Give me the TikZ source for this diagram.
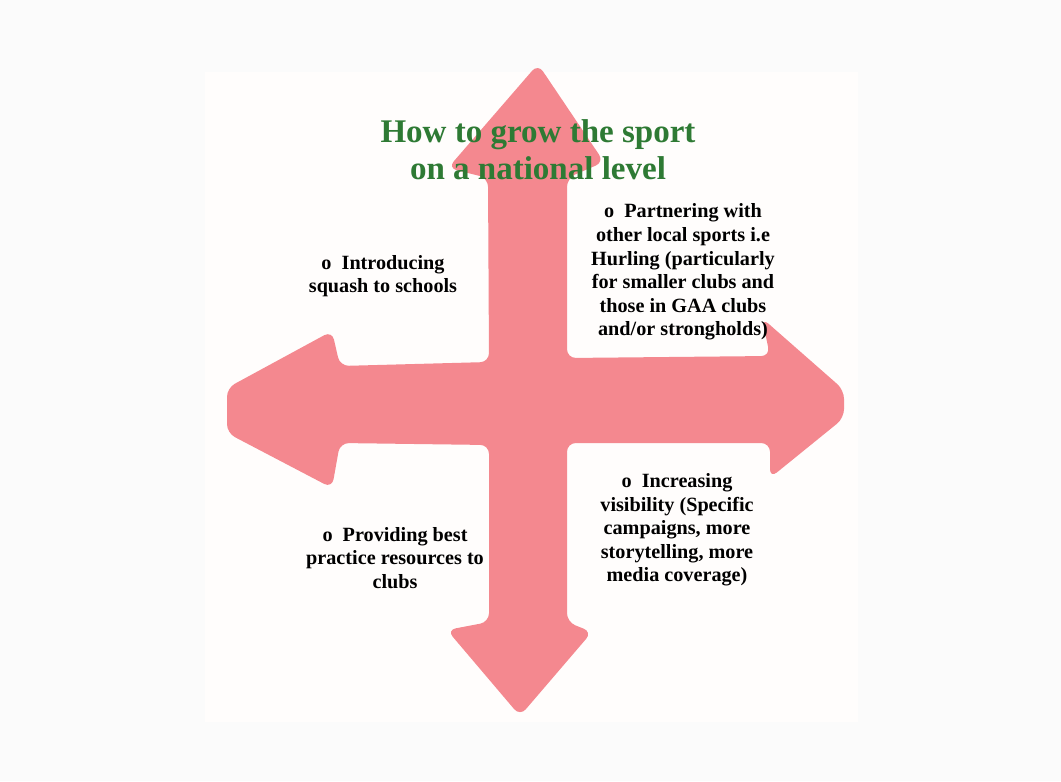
\documentclass[tikz,border=0pt]{standalone}
\usepackage{fontspec}
\setmainfont{Liberation Serif}
\usepackage{xcolor}

\definecolor{arrowpink}{RGB}{244,136,143}
\definecolor{titlegreen}{RGB}{46,122,52}
\definecolor{pagegray}{RGB}{251,251,251}
\definecolor{panelwhite}{RGB}{255,253,252}

\tikzset{
    pointtext/.style={align=center, font=\bfseries\fontsize{11.5}{13.4}\selectfont, inner sep=0pt},
}

\begin{document}
\begin{tikzpicture}[x=0.02cm, y=-0.02cm]
    \fill[pagegray] (0,0) rectangle (1061,781);
    \useasboundingbox (0,0) rectangle (1061,781);
    \fill[panelwhite] (205,72) rectangle (858,722);


    %four way arrow
    \fill[arrowpink, rounded corners=5pt] (538,64) -- (604,162) -- (567,178) -- (567,358)
        -- (770,356) -- (762,318) -- (844,390) -- (844,418) -- (770,478) -- (770,443)
        -- (567,443) -- (567,622) -- (592,632) -- (520,716) -- (447,630) -- (489,622)
        -- (489,445) -- (340,443) -- (332,488) -- (227,433) -- (227,388) -- (332,331)
        -- (340,366) -- (489,362) -- (488,178) -- (448,168) -- cycle;


    %title
    \node[align=center, inner sep=0pt, font=\bfseries\fontsize{18.8}{21}\selectfont] (title) at (538,150)
        {\color{titlegreen}How to grow the sport\\\color{titlegreen}on a national level};


    %points
    \node[pointtext] (schools) at (383,276) {o\enspace Introducing\\squash to schools};
    \node[pointtext] (partner) at (683,272) {o\enspace Partnering with\\other local sports i.e\\Hurling (particularly\\for smaller clubs and\\those in GAA clubs\\and/or strongholds)};
    \node[pointtext] (resources) at (395,558) {o\enspace Providing best\\practice resources to\\clubs};
    \node[pointtext] (visibility) at (677,530) {o\enspace Increasing\\visibility (Specific\\campaigns, more\\storytelling, more\\media coverage)};
\end{tikzpicture}
\end{document}
